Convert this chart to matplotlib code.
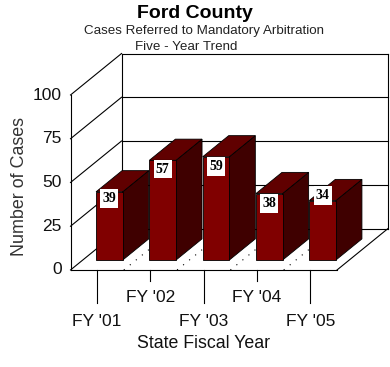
import matplotlib
matplotlib.use('Agg')
import matplotlib.pyplot as plt
from matplotlib.patches import Polygon, Rectangle

plt.rcParams['font.family'] = ['Liberation Sans', 'DejaVu Sans']

# Chart values
years = ["FY '01", "FY '02", "FY '03", "FY '04", "FY '05"]
cases = [39, 57, 59, 38, 34]
y_ticks = [0, 25, 50, 75, 100]
# label box shift from bar top, in cases
label_shift = [-4, -5, -5.5, -5.5, 3]

# Pseudo 3D set up (x in slots, y in cases)
depth_x = 0.957
depth_y = 23.7
bar_width = 0.5
bar_d0 = 0.24
bar_d1 = 0.75
box_w = 0.34
box_h = 10.8


def proj(x, y, d):
    return (x + d * depth_x, y + d * depth_y)


def face(ax, pts, color, edge='black', lw=0.6, z=2):
    ax.add_patch(Polygon(pts, closed=True, facecolor=color, edgecolor=edge, linewidth=lw, zorder=z, clip_on=False))


def line(ax, a, b):
    ax.plot([a[0], b[0]], [a[1], b[1]], color='black', lw=0.8, zorder=1.5, clip_on=False)


fig = plt.figure(figsize=(3.9, 3.67), dpi=100)
# front plane: x 70.5..337 px, y 270 (0) .. 95 (100) px
ax = fig.add_axes([70.5 / 390, 1 - 270 / 367, 266.5 / 390, 175 / 367])
ax.set_xlim(0, 5)
ax.set_ylim(0, 100)
ax.axis('off')

n = len(years)

# frame of walls and floor
line(ax, proj(0, 0, 0), proj(0, 100, 0))
line(ax, proj(0, 0, 1), proj(0, 100, 1))
line(ax, proj(n, 0, 1), proj(n, 100, 1))
line(ax, proj(0, 0, 0), proj(n, 0, 0))
line(ax, proj(n, 0, 0), proj(n, 0, 1))

for t in y_ticks:
    line(ax, proj(0, t, 0), proj(0, t, 1))
    line(ax, proj(0, t, 1), proj(n, t, 1))
    ax.text(-0.16, t, str(t), ha='right', va='center', fontsize=12.5, color='#111111', clip_on=False)

# dotted floor lines
for i in range(1, n):
    x0, y0 = proj(i, 0, 0)
    x1, y1 = proj(i, 0, 1)
    ax.plot([x0, x1], [y0, y1], color='black', lw=0.8, ls=(0, (1, 6)), zorder=1.5, clip_on=False)

# tick marks, staggered labels
for i in range(n):
    long_tick = i % 2 == 0
    ax.plot([i + 0.5, i + 0.5], [0, -19 if long_tick else -6.5], color='black', lw=0.8, clip_on=False)
    ax.text(i + 0.5, -29.5 if long_tick else -16, years[i], ha='center', va='center', fontsize=12.5, color='#111111', clip_on=False)

# bars
for i in range(n):
    v = cases[i]
    l = i + 0.5 - bar_width / 2
    r = i + 0.5 + bar_width / 2
    z = 3 + i
    face(ax, [proj(r, 0, bar_d0), proj(r, 0, bar_d1), proj(r, v, bar_d1), proj(r, v, bar_d0)], '#3f0000', z=z)
    face(ax, [proj(l, v, bar_d0), proj(r, v, bar_d0), proj(r, v, bar_d1), proj(l, v, bar_d1)], '#600000', z=z)
    face(ax, [proj(l, 0, bar_d0), proj(r, 0, bar_d0), proj(r, v, bar_d0), proj(l, v, bar_d0)], '#800000', z=z)
    cx, cy = proj(i + 0.5, v + label_shift[i], bar_d0)
    ax.add_patch(Rectangle((cx - box_w / 2, cy - box_h / 2), box_w, box_h, facecolor='white', edgecolor='none', zorder=20, clip_on=False))
    ax.text(cx, cy, str(v), ha='center', va='center', fontsize=10, fontweight='bold', family=['Liberation Serif'],
            color='black', zorder=21, clip_on=False)

fig.text(195 / 390, 1 - 14 / 367, 'Ford County', ha='center', va='center', fontsize=14, fontweight='bold')
fig.text(204 / 390, 1 - 31 / 367, 'Cases Referred to Mandatory Arbitration', ha='center', va='center', fontsize=9.6, color='#222222')
fig.text(186 / 390, 1 - 47 / 367, 'Five - Year Trend', ha='center', va='center', fontsize=9.6, color='#222222')
fig.text(204 / 390, 1 - 344 / 367, 'State Fiscal Year', ha='center', va='center', fontsize=12.8, color='#111111')
fig.text(20 / 390, 1 - 186 / 367, 'Number of Cases', ha='center', va='center', rotation=90, fontsize=12.9, color='#333333')

fig.savefig('out.png', dpi=100)
